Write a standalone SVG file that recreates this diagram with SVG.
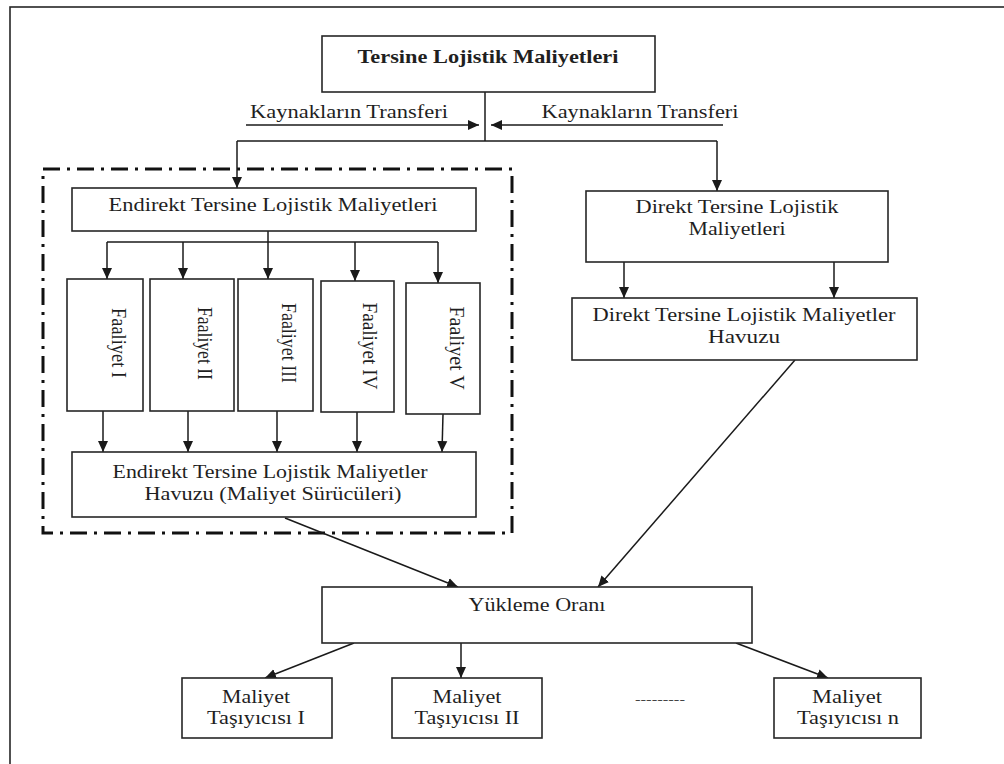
<svg xmlns="http://www.w3.org/2000/svg" width="1004" height="764" viewBox="0 0 1004 764">
  <defs>
    <marker id="arrow" markerUnits="userSpaceOnUse" markerWidth="12" markerHeight="12" viewBox="0 0 12 12" refX="11" refY="6" orient="auto">
      <path d="M0,1 L11,6 L0,11 Z" fill="#1a1a1a"/>
    </marker>
    <style>
      .box { fill: #ffffff; stroke: #262626; stroke-width: 1.6; }
      .frame { fill: none; stroke: #262626; stroke-width: 1.6; }
      .group { fill: none; stroke: #111111; stroke-width: 3; stroke-dasharray: 17 7 3 7; }
      .link { fill: none; stroke: #1a1a1a; stroke-width: 1.5; }
      .arr { fill: none; stroke: #1a1a1a; stroke-width: 1.5; marker-end: url(#arrow); }
      text { font-family: "Liberation Serif", "Times New Roman", serif; fill: #1f1f1f; }
      .t { font-size: 19px; text-anchor: middle; }
      .tb { font-size: 19px; font-weight: bold; text-anchor: middle; }
      .tv { font-size: 17px; text-anchor: middle; }
    </style>
  </defs>

  <rect width="1004" height="764" fill="#ffffff"/>
  <!-- outer frame -->
  <rect class="frame" x="10" y="7" width="1010" height="770"/>

  <!-- dash-dot boundary around the indirect cost block -->
  <rect class="group" x="43" y="169" width="469" height="364"/>

  <!-- connectors -->
  <g id="connectors">
    <line class="link" x1="485" y1="92" x2="485" y2="141"/>
    <line class="arr" x1="246" y1="125" x2="479" y2="125"/>
    <line class="arr" x1="723" y1="125" x2="491" y2="125"/>
    <line class="link" x1="237" y1="141" x2="717" y2="141"/>
    <line class="arr" x1="237" y1="141" x2="237" y2="188"/>
    <line class="arr" x1="717" y1="141" x2="717" y2="191"/>

    <line class="link" x1="268" y1="231" x2="268" y2="242"/>
    <line class="link" x1="107" y1="242" x2="438" y2="242"/>
    <line class="arr" x1="107" y1="242" x2="107" y2="279"/>
    <line class="arr" x1="183" y1="242" x2="183" y2="279"/>
    <line class="arr" x1="268" y1="242" x2="268" y2="279"/>
    <line class="arr" x1="355" y1="242" x2="355" y2="281"/>
    <line class="arr" x1="438" y1="242" x2="438" y2="283"/>

    <line class="arr" x1="103" y1="411" x2="103" y2="452"/>
    <line class="arr" x1="188" y1="411" x2="188" y2="452"/>
    <line class="arr" x1="277" y1="411" x2="277" y2="452"/>
    <line class="arr" x1="357" y1="412" x2="357" y2="452"/>
    <line class="arr" x1="443" y1="414" x2="442" y2="452"/>

    <line class="arr" x1="624" y1="262" x2="624" y2="298"/>
    <line class="arr" x1="834" y1="262" x2="834" y2="298"/>

    <line class="arr" x1="285" y1="518" x2="458" y2="587"/>
    <line class="arr" x1="795" y1="360" x2="598" y2="587"/>

    <line class="arr" x1="354" y1="643" x2="265" y2="678"/>
    <line class="arr" x1="461" y1="643" x2="461" y2="678"/>
    <line class="arr" x1="736" y1="643" x2="828" y2="678"/>
  </g>

  <!-- arrow labels -->
  <text class="t" x="349" y="118" textLength="198" lengthAdjust="spacingAndGlyphs">Kaynakların  Transferi</text>
  <text class="t" x="640" y="118" textLength="197" lengthAdjust="spacingAndGlyphs">Kaynakların  Transferi</text>

  <g id="node-total">
    <rect class="box" x="322" y="36" width="333" height="56"/>
    <text class="tb" x="488" y="63" textLength="261" lengthAdjust="spacingAndGlyphs">Tersine Lojistik Maliyetleri</text>
  </g>

  <g id="node-indirect">
    <rect class="box" x="72" y="188" width="404" height="43"/>
    <text class="t" x="273" y="211" textLength="329" lengthAdjust="spacingAndGlyphs">Endirekt Tersine Lojistik Maliyetleri</text>
  </g>

  <g id="node-activity-1">
    <rect class="box" x="67" y="279" width="76" height="132"/>
    <text class="tv" transform="translate(111.5,343) scale(1.2,1) rotate(90)" textLength="70" lengthAdjust="spacingAndGlyphs">Faaliyet I</text>
  </g>
  <g id="node-activity-2">
    <rect class="box" x="150" y="279" width="84" height="132"/>
    <text class="tv" transform="translate(197.5,343.5) scale(1.2,1) rotate(90)" textLength="73" lengthAdjust="spacingAndGlyphs">Faaliyet II</text>
  </g>
  <g id="node-activity-3">
    <rect class="box" x="238" y="279" width="75" height="132"/>
    <text class="tv" transform="translate(281.5,343) scale(1.2,1) rotate(90)" textLength="80" lengthAdjust="spacingAndGlyphs">Faaliyet III</text>
  </g>
  <g id="node-activity-4">
    <rect class="box" x="321" y="281" width="73" height="131"/>
    <text class="tv" transform="translate(362.5,346) scale(1.2,1) rotate(90)" textLength="87" lengthAdjust="spacingAndGlyphs">Faaliyet IV</text>
  </g>
  <g id="node-activity-5">
    <rect class="box" x="406" y="283" width="74" height="131"/>
    <text class="tv" transform="translate(449.5,348) scale(1.2,1) rotate(90)" textLength="83" lengthAdjust="spacingAndGlyphs">Faaliyet V</text>
  </g>

  <g id="node-indirect-pool">
    <rect class="box" x="72" y="452" width="404" height="65"/>
    <text class="t" x="270" y="478" textLength="315" lengthAdjust="spacingAndGlyphs">Endirekt Tersine Lojistik Maliyetler</text>
    <text class="t" x="273" y="500" textLength="257" lengthAdjust="spacingAndGlyphs">Havuzu (Maliyet Sürücüleri)</text>
  </g>

  <g id="node-direct">
    <rect class="box" x="586" y="191" width="302" height="71"/>
    <text class="t" x="737" y="213" textLength="203" lengthAdjust="spacingAndGlyphs">Direkt Tersine Lojistik</text>
    <text class="t" x="737" y="235" textLength="97" lengthAdjust="spacingAndGlyphs">Maliyetleri</text>
  </g>

  <g id="node-direct-pool">
    <rect class="box" x="572" y="298" width="345" height="62"/>
    <text class="t" x="744" y="321" textLength="303" lengthAdjust="spacingAndGlyphs">Direkt Tersine Lojistik  Maliyetler</text>
    <text class="t" x="744" y="343" textLength="72" lengthAdjust="spacingAndGlyphs">Havuzu</text>
  </g>

  <g id="node-loading-rate">
    <rect class="box" x="322" y="587" width="430" height="56"/>
    <text class="t" x="537" y="611" textLength="137" lengthAdjust="spacingAndGlyphs">Yükleme Oranı</text>
  </g>

  <g id="node-carrier-1">
    <rect class="box" x="182" y="678" width="150" height="60"/>
    <text class="t" x="256" y="703" textLength="68" lengthAdjust="spacingAndGlyphs">Maliyet</text>
    <text class="t" x="256" y="724" textLength="98" lengthAdjust="spacingAndGlyphs">Taşıyıcısı I</text>
  </g>
  <g id="node-carrier-2">
    <rect class="box" x="392" y="678" width="150" height="60"/>
    <text class="t" x="467" y="703" textLength="69" lengthAdjust="spacingAndGlyphs">Maliyet</text>
    <text class="t" x="467" y="724" textLength="105" lengthAdjust="spacingAndGlyphs">Taşıyıcısı II</text>
  </g>
  <text x="660" y="703" font-size="10" text-anchor="middle" textLength="50" lengthAdjust="spacingAndGlyphs">---------</text>
  <g id="node-carrier-n">
    <rect class="box" x="774" y="678" width="147" height="60"/>
    <text class="t" x="847" y="703" textLength="70" lengthAdjust="spacingAndGlyphs">Maliyet</text>
    <text class="t" x="848" y="724" textLength="102" lengthAdjust="spacingAndGlyphs">Taşıyıcısı n</text>
  </g>
</svg>
